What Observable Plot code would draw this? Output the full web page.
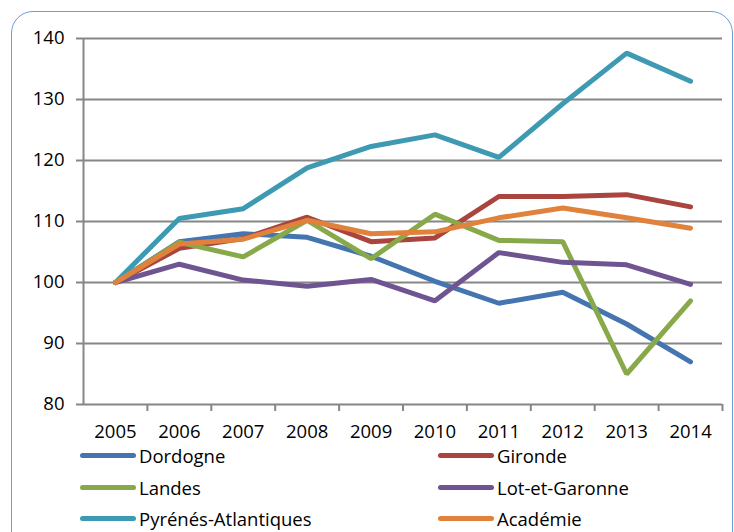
<!DOCTYPE html>
<html>
<head>
<meta charset="utf-8">
<script src="https://cdn.jsdelivr.net/npm/d3@7"></script>
<script src="https://cdn.jsdelivr.net/npm/@observablehq/plot@0.6"></script>
<style>
  html, body { margin: 0; padding: 0; background: #fff; }
  body { width: 734px; height: 532px; overflow: hidden; position: relative; font-family: "Open Sans", sans-serif; }
  #frame { position: absolute; left: 11px; top: 11px; width: 722px; height: 560px; border: 1.5px solid #6E9BD9; border-radius: 22px; box-sizing: border-box; }
  #chart { position: absolute; left: 0; top: 0; }
  #legend { position: absolute; left: 0; top: 0; width: 734px; }
  .item { position: absolute; display: flex; align-items: center; font-size: 18.5px; color: #000; white-space: nowrap; }
  .swatch { width: 56px; height: 5px; border-radius: 3px; margin-right: 3px; }
</style>
</head>
<body>
<div id="frame"></div>
<div id="chart"></div>
<div id="legend"></div>
<script>
const years = [2005, 2006, 2007, 2008, 2009, 2010, 2011, 2012, 2013, 2014];
const seriesNames = ["Dordogne", "Gironde", "Landes", "Lot-et-Garonne", "Pyrénés-Atlantiques", "Académie"];
const colors = ["#4575B0", "#A9443F", "#88A94A", "#6E5591", "#3E9AB2", "#E0823B"];

const dordogne      = [100, 106.7, 108.0, 107.4, 104.3, 100.2, 96.6, 98.4, 93.2, 87.0];
const gironde       = [100, 105.6, 107.2, 110.7, 106.7, 107.3, 114.1, 114.1, 114.4, 112.4];
const landes        = [100, 106.6, 104.2, 110.2, 103.9, 111.2, 106.9, 106.7, 85.0, 97.0];
const lotEtGaronne  = [100, 103.0, 100.4, 99.4, 100.5, 97.0, 104.9, 103.3, 102.9, 99.7];
const pyrenees      = [100, 110.5, 112.1, 118.8, 122.3, 124.2, 120.5, 129.3, 137.6, 133.0];
const academie      = [100, 106.3, 107.1, 110.2, 108.0, 108.3, 110.6, 112.2, 110.6, 108.9];

const yTicks = [80, 90, 100, 110, 120, 130, 140];

const allValues = [dordogne, gironde, landes, lotEtGaronne, pyrenees, academie];
const data = [];
seriesNames.forEach((name, i) => {
  years.forEach((yr, j) => data.push({series: name, year: yr, value: allValues[i][j]}));
});
const boundaries = years.map(y => y - 0.5).concat([years[years.length - 1] + 0.5]);

const gridColor = "#868686";

const chart = Plot.plot({
  width: 734,
  height: 440,
  marginLeft: 83,
  marginRight: 12,
  marginTop: 38,
  marginBottom: 36,
  style: { fontFamily: "Open Sans, sans-serif", fontSize: "18px", color: "#000", background: "transparent", overflow: "visible" },
  x: { type: "linear", domain: [years[0] - 0.5, years[years.length - 1] + 0.5], axis: null },
  y: { type: "linear", domain: [80, 140], axis: null },
  color: { domain: seriesNames, range: colors },
  marks: [
    Plot.ruleY(yTicks, { stroke: gridColor, strokeWidth: 2 }),
    Plot.ruleX([boundaries[0]], { stroke: gridColor, strokeWidth: 2 }),
    Plot.axisY({ ticks: yTicks, tickSize: 7, tickPadding: 12, stroke: gridColor, strokeWidth: 2, fill: "#000", label: null, fontSize: 18.5 }),
    Plot.ruleX(boundaries.slice(1), { y1: 80, y2: 80, stroke: gridColor, strokeWidth: 2, insetBottom: -7 }),
    Plot.text(years, { x: d => d, y: () => 80, dy: 28, text: d => String(d), fill: "#000", fontSize: 18.5 }),
    Plot.line(data, { x: "year", y: "value", z: "series", stroke: "series", strokeWidth: 5, strokeLinecap: "round", strokeLinejoin: "miter" })
  ]
});
document.getElementById("chart").appendChild(chart);

const legend = document.getElementById("legend");
const rowsY = [455, 487, 518];
seriesNames.forEach((name, i) => {
  const col = i % 2, row = Math.floor(i / 2);
  const item = document.createElement("div");
  item.className = "item";
  item.style.left = (col === 0 ? 80 : 438) + "px";
  item.style.top = (rowsY[row] - 13) + "px";
  item.style.height = "26px";
  const sw = document.createElement("div");
  sw.className = "swatch";
  sw.style.background = colors[i];
  const label = document.createElement("span");
  label.textContent = name;
  item.appendChild(sw);
  item.appendChild(label);
  legend.appendChild(item);
});
</script>
</body>
</html>
